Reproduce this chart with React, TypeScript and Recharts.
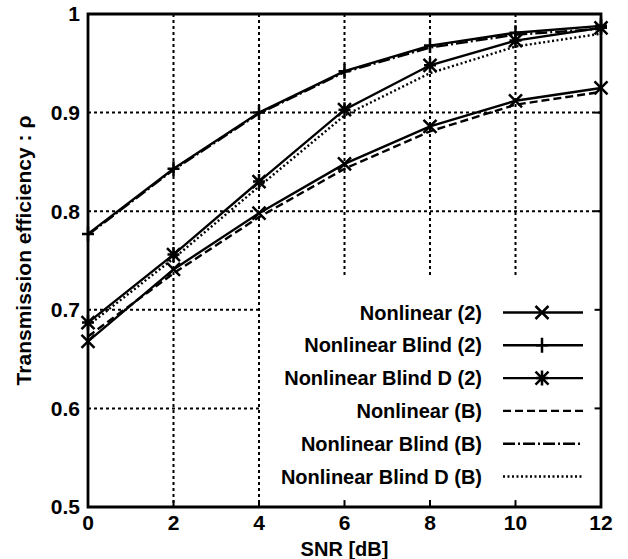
import React from 'react';
import { LineChart, Line, XAxis, YAxis, CartesianGrid, ReferenceArea, ReferenceLine } from 'recharts';

const snr = [0, 2, 4, 6, 8, 10, 12];
const nonlinear2 = [0.668, 0.741, 0.798, 0.848, 0.886, 0.912, 0.925];
const nonlinearBlind2 = [0.777, 0.843, 0.9, 0.942, 0.968, 0.981, 0.988];
const nonlinearBlindD2 = [0.687, 0.756, 0.83, 0.903, 0.948, 0.973, 0.986];
const nonlinearB = [0.673, 0.737, 0.794, 0.843, 0.881, 0.908, 0.921];
const nonlinearBlindB = [0.776, 0.842, 0.899, 0.941, 0.966, 0.979, 0.985];
const nonlinearBlindDB = [0.684, 0.752, 0.825, 0.897, 0.94, 0.967, 0.98];

const xTicks = [0, 2, 4, 6, 8, 10, 12];
const yTicks = [0.5, 0.6, 0.7, 0.8, 0.9, 1];

const FONT = '"Liberation Sans", Arial, sans-serif';

const data = snr.map((s, i) => ({
  snr: s,
  n2: nonlinear2[i],
  nb2: nonlinearBlind2[i],
  nbd2: nonlinearBlindD2[i],
  nB: nonlinearB[i],
  nbB: nonlinearBlindB[i],
  nbdB: nonlinearBlindDB[i],
}));

type Mark = 'x' | 'plus' | 'star' | null;

const series: { key: string; name: string; dash?: string; mark: Mark }[] = [
  { key: 'n2', name: 'Nonlinear (2)', mark: 'x' },
  { key: 'nb2', name: 'Nonlinear Blind (2)', mark: 'plus' },
  { key: 'nbd2', name: 'Nonlinear Blind D (2)', mark: 'star' },
  { key: 'nB', name: 'Nonlinear (B)', dash: '8 4', mark: null },
  { key: 'nbB', name: 'Nonlinear Blind (B)', dash: '12 3 2 3', mark: null },
  { key: 'nbdB', name: 'Nonlinear Blind D (B)', dash: '2 2.5', mark: null },
];

const Marker = ({ cx, cy, mark }: { cx: number; cy: number; mark: Mark }) => {
  const d = 6.5;
  const xs = `M${cx - d},${cy - d}L${cx + d},${cy + d}M${cx - d},${cy + d}L${cx + d},${cy - d}`;
  const ps = `M${cx - 6},${cy}L${cx + 6},${cy}M${cx},${cy - 7.5}L${cx},${cy + 7.5}`;
  const path = mark === 'x' ? xs : mark === 'plus' ? ps : xs + ps;
  return <path d={path} stroke="#000" strokeWidth={2.5} fill="none" />;
};

const LegendBox = () => (
  <svg width={628} height={559} style={{ position: 'absolute', left: 0, top: 0, pointerEvents: 'none' }}>
    {series.map((s, i) => {
      const y = 312.5 + i * 32.8;
      return (
        <g key={s.key}>
          <text x={482} y={y} textAnchor="end" dominantBaseline="central" fontFamily={FONT} fontWeight={700} fontSize={20} fill="#000">
            {s.name}
          </text>
          <line x1={503} x2={583} y1={y} y2={y} stroke="#000" strokeWidth={2.4} strokeDasharray={s.dash} />
          {s.mark && <Marker cx={542} cy={y} mark={s.mark} />}
        </g>
      );
    })}
  </svg>
);

const tickStyle = { fill: '#000', fontSize: 21, fontWeight: 700, fontFamily: FONT };

export default function App() {
  return (
    <div style={{ position: 'absolute', left: 0, top: 0, width: 628, height: 559, background: '#fff' }}>
      <LineChart width={628} height={559} data={data} margin={{ top: 14, right: 27, left: 0, bottom: 0 }}>
        <CartesianGrid stroke="#000" strokeWidth={2} strokeDasharray="3 3" />
        <XAxis
          dataKey="snr"
          type="number"
          domain={[0, 12]}
          ticks={xTicks}
          axisLine={false}
          tickLine={false}
          height={52}
          tick={tickStyle}
          label={{ value: 'SNR [dB]', position: 'insideBottom', offset: 3, style: { ...tickStyle, fontSize: 20 } }}
        />
        <YAxis
          type="number"
          domain={[0.5, 1]}
          ticks={yTicks}
          axisLine={false}
          tickLine={false}
          width={88}
          tick={tickStyle}
          tickFormatter={(v: number) => (v === 1 ? '1' : v.toFixed(1))}
          label={{
            content: (p: any) => {
              const vb = p.viewBox || { x: 0, y: 14, width: 88, height: 493 };
              const cx = vb.x + 23;
              const cy = vb.y + vb.height / 2 - 10;
              return (
                <text
                  x={cx}
                  y={cy}
                  transform={`rotate(-90 ${cx} ${cy})`}
                  textAnchor="middle"
                  dominantBaseline="central"
                  fontFamily={FONT}
                  fontWeight={700}
                  fontSize={21}
                  fill="#000"
                >
                  Transmission efficiency : ρ
                </text>
              );
            },
          }}
        />
        <ReferenceArea x1={4.05} x2={12} y1={0.5} y2={0.735} fill="#fff" fillOpacity={1} stroke="none" />
        {yTicks.map((t) => (
          <ReferenceLine key={'r' + t} segment={[{ x: 12, y: t }, { x: 11.85, y: t }]} stroke="#000" strokeWidth={2} />
        ))}
        {xTicks.map((t) => (
          <ReferenceLine key={'b' + t} segment={[{ x: t, y: 0.5 }, { x: t, y: 0.507 }]} stroke="#000" strokeWidth={2} />
        ))}
        <ReferenceArea x1={0} x2={12} y1={0.5} y2={1} fill="none" stroke="#000" strokeWidth={2.8} />
        {series.map((s) => (
          <Line
            key={s.key}
            dataKey={s.key}
            type="linear"
            stroke="#000"
            strokeWidth={2.4}
            strokeDasharray={s.dash}
            isAnimationActive={false}
            activeDot={false}
            dot={s.mark ? (p: any) => <Marker key={s.key + p.index} cx={p.cx} cy={p.cy} mark={s.mark} /> : false}
          />
        ))}
      </LineChart>
      <LegendBox />
    </div>
  );
}
